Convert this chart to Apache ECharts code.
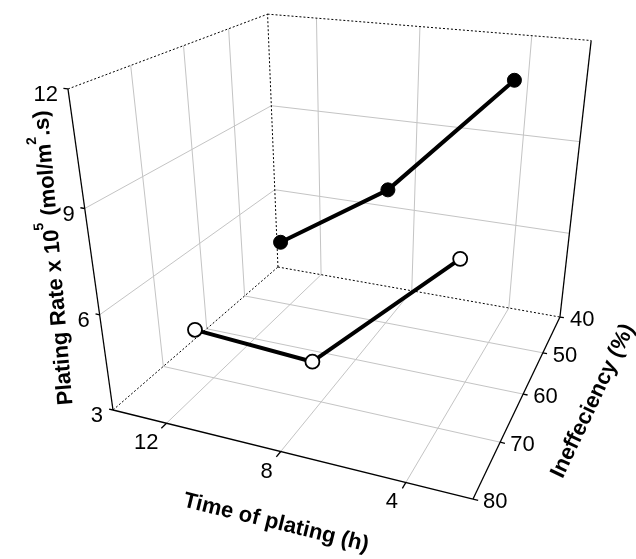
<!DOCTYPE html>
<html>
<head>
<meta charset="utf-8">
<script src="https://cdn.jsdelivr.net/npm/echarts@6/dist/echarts.min.js"></script>
<style>
  html, body { margin: 0; padding: 0; background: #fff; }
  #chart { width: 636px; height: 559px; }
</style>
</head>
<body>
<div id="chart"></div>
<script>
// Axis ranges and ticks (time runs right-to-left, inefficiency front-to-back)
const timeRange = [14, 2];
const ineffRange = [80, 40];
const rateRange = [3, 12];
const timeTicks = [12, 8, 4];
const ineffTicks = [40, 50, 60, 70, 80];
const rateTicks = [3, 6, 9, 12];

// Measured series
const timeHours = [12, 8, 4];
const ineffSolid = [52, 50, 47];
const rateSolid = [5.5, 7.6, 11.1];
const ineffOpen = [73, 72, 65];
const rateOpen = [5.0, 4.6, 7.5];

// Perspective camera for the 3D box (normalised box coords -> screen units)
const cam = {
  ox: 113, oy: 410,
  xu: 299.7, xv: 252.8, xw: -55.7,
  yu: 25.4, yv: -58.6, yw: -335.0,
  pu: -0.1275, pv: 0.316, pw: -0.157
};

function project(t, ineff, rate) {
  const u = (t - timeRange[0]) / (timeRange[1] - timeRange[0]);
  const v = (ineff - ineffRange[0]) / (ineffRange[1] - ineffRange[0]);
  const w = (rate - rateRange[0]) / (rateRange[1] - rateRange[0]);
  const d = 1 + cam.pu * u + cam.pv * v + cam.pw * w;
  return [
    (cam.ox + cam.xu * u + cam.xv * v + cam.xw * w) / d,
    (cam.oy + cam.yu * u + cam.yv * v + cam.yw * w) / d
  ];
}

const T0 = timeRange[0], T1 = timeRange[1];
const I0 = ineffRange[0], I1 = ineffRange[1];
const R0 = rateRange[0], R1 = rateRange[1];

// Box frame: gridlines on floor and back walls, dotted hidden edges, axis lines
const segments = [];
function seg(a, b, kind) { segments.push({ a, b, kind }); }

timeTicks.forEach(t => {
  seg([t, I0, R0], [t, I1, R0], 'grid');          // floor
  seg([t, I1, R0], [t, I1, R1], 'grid');          // back wall
});
ineffTicks.filter(i => i !== I0 && i !== I1).forEach(i => {
  seg([T0, i, R0], [T1, i, R0], 'grid');          // floor
  seg([T0, i, R0], [T0, i, R1], 'grid');          // left wall
});
rateTicks.filter(r => r !== R0 && r !== R1).forEach(r => {
  seg([T0, I0, r], [T0, I1, r], 'grid');          // left wall
  seg([T0, I1, r], [T1, I1, r], 'grid');          // back wall
});

seg([T0, I0, R0], [T0, I1, R0], 'dot');
seg([T0, I1, R0], [T1, I1, R0], 'dot');
seg([T0, I1, R0], [T0, I1, R1], 'dot');
seg([T0, I0, R1], [T0, I1, R1], 'dot');
seg([T0, I1, R1], [T1, I1, R1], 'dot');

seg([T0, I0, R0], [T1, I0, R0], 'axis');
seg([T1, I0, R0], [T1, I1, R0], 'axis');
seg([T0, I0, R0], [T0, I0, R1], 'axis');
seg([T1, I1, R0], [T1, I1, R1], 'axis');

// tick marks
timeTicks.forEach(t => seg([t, I0, R0], [t, I0 + 1, R0], 'axis'));
ineffTicks.forEach(i => seg([T1, i, R0], [T1 - 0.15, i, R0], 'axis'));
rateTicks.forEach(r => seg([T0, I0, r], [T0 + 0.15, I0, r], 'axis'));

const lineStyles = {
  grid: { color: '#c4c4c4', width: 1, type: 'solid', opacity: 1 },
  dot: { color: '#000', width: 1, type: [2, 2], opacity: 1 },
  axis: { color: '#000', width: 1.3, type: 'solid', opacity: 1 }
};

const frameData = segments.map(s => ({
  coords: [project(...s.a), project(...s.b)],
  lineStyle: lineStyles[s.kind]
}));

// Tick labels placed next to their projected tick positions
const tickLabels = [];
rateTicks.forEach(r => {
  const p = project(T0, I0, r);
  tickLabels.push({ x: p[0] - 10, y: p[1] + 6, text: String(r), align: 'right' });
});
timeTicks.forEach(t => {
  const p = project(t, I0, R0);
  tickLabels.push({ x: p[0] - 8, y: p[1] + 20, text: String(t), align: 'right' });
});
ineffTicks.forEach(i => {
  const p = project(T1, i, R0);
  tickLabels.push({ x: p[0] + 10, y: p[1] + 3, text: String(i), align: 'left' });
});

const solidPts = timeHours.map((t, k) => project(t, ineffSolid[k], rateSolid[k]));
const openPts = timeHours.map((t, k) => project(t, ineffOpen[k], rateOpen[k]));

const FONT = '"Liberation Sans", Arial, sans-serif';

const chart = echarts.init(document.getElementById('chart'), null, { renderer: 'canvas' });
chart.setOption({
  animation: false,
  backgroundColor: '#fff',
  grid: { left: 0, right: 0, top: 0, bottom: 0 },
  xAxis: { type: 'value', min: 0, max: 636, show: false },
  yAxis: { type: 'value', min: 0, max: 559, inverse: true, show: false },
  series: [
    {
      name: 'frame',
      type: 'lines',
      coordinateSystem: 'cartesian2d',
      silent: true,
      z: 1,
      data: frameData
    },
    {
      name: 'tickLabels',
      type: 'custom',
      silent: true,
      z: 2,
      data: tickLabels.map(l => [l.x, l.y]),
      renderItem: (params, api) => {
        const l = tickLabels[params.dataIndex];
        const p = api.coord([api.value(0), api.value(1)]);
        return {
          type: 'text',
          x: p[0], y: p[1],
          style: {
            text: l.text,
            font: '22px ' + FONT,
            fill: '#000',
            align: l.align,
            verticalAlign: 'middle'
          }
        };
      }
    },
    {
      name: 'open',
      type: 'line',
      data: openPts,
      z: 3,
      clip: false,
      symbol: 'circle',
      symbolSize: 14,
      showAllSymbol: true,
      lineStyle: { color: '#000', width: 4 },
      itemStyle: { color: '#fff', borderColor: '#000', borderWidth: 1.8 }
    },
    {
      name: 'solid',
      type: 'line',
      data: solidPts,
      z: 3,
      clip: false,
      symbol: 'circle',
      symbolSize: 14,
      showAllSymbol: true,
      lineStyle: { color: '#000', width: 4 },
      itemStyle: { color: '#000', borderColor: '#000', borderWidth: 1 }
    }
  ],
  graphic: [
    {
      type: 'text',
      x: 50, y: 258,
      rotation: Math.PI / 2 + 0.084,
      style: {
        text: '{n|Plating Rate x 10}{sup|5}{n| (mol/m}{sup|2}{n|.s)}',
        align: 'center',
        verticalAlign: 'middle',
        fill: '#000',
        rich: {
          n: { fontFamily: FONT, fontWeight: 'bold', fontSize: 22, lineHeight: 30, verticalAlign: 'bottom', fill: '#000' },
          sup: { fontFamily: FONT, fontWeight: 'bold', fontSize: 14, verticalAlign: 'top', fill: '#000' }
        }
      }
    },
    {
      type: 'text',
      x: 276, y: 523,
      rotation: -0.239,
      style: {
        text: 'Time of plating (h)',
        font: 'bold 22px ' + FONT,
        fill: '#000',
        align: 'center',
        verticalAlign: 'middle'
      }
    },
    {
      type: 'text',
      x: 593, y: 401,
      rotation: 1.126,
      style: {
        text: 'Ineffeciency (%)',
        font: 'bold 22px ' + FONT,
        fill: '#000',
        align: 'center',
        verticalAlign: 'middle'
      }
    }
  ]
});
</script>
</body>
</html>
